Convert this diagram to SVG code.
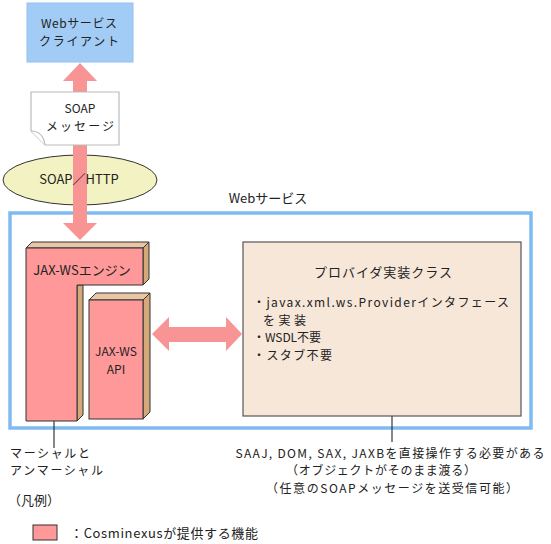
<svg xmlns="http://www.w3.org/2000/svg" width="551" height="544" viewBox="0 0 551 544">
<style>
text{font-family:"Noto Sans CJK JP","Noto Sans",sans-serif;font-size:13px;fill:#222}
.m{font-size:12px}
.c{text-anchor:middle}
.pink{fill:#FF9999;stroke:#333;stroke-width:1}
.top{fill:#E8C6A6;stroke:#333;stroke-width:1}
.side{fill:#D4A878;stroke:#333;stroke-width:1}
.arrow{fill:#F89494;stroke:none}
.lead{stroke:#111;stroke-width:1;fill:none}
</style>
<rect width="551" height="544" fill="#fff"/>
<g id="ellipse-http">
<ellipse cx="80" cy="180" rx="77" ry="25" fill="#F2F2C2" stroke="#333" stroke-width="1"/>
</g>
<g id="container">
<rect x="10" y="213" width="521" height="215" fill="none" stroke="#80BAF2" stroke-width="3.5"/>
<text x="268" y="203" class="c">Webサービス</text>
</g>
<g id="client">
<rect x="27" y="3" width="106" height="59" fill="#A2CCF6" stroke="#8FC2F2" stroke-width="1"/>
<text x="79" y="27.5" class="c m" textLength="76">Webサービス</text>
<text x="79" y="45.5" class="c m" textLength="80">クライアント</text>
</g>
<g id="connectors">
<polygon class="arrow" points="80,63 97,81 87,81 87,223 97,223 80,240 63,223 73,223 73,81 63,81"/>
<polygon class="arrow" points="152,334 169,317 169,327 226,327 226,317 242,334 226,351 226,342 169,342 169,351"/>
<line class="lead" x1="54" y1="388" x2="54" y2="448"/>
<circle cx="54" cy="388" r="2.5" fill="#111"/>
<line class="lead" x1="392" y1="388" x2="392" y2="442"/>
<circle cx="392" cy="388" r="2.5" fill="#111"/>
</g>
<g id="soap-message">
<polygon points="31,92 119,92 119,145 45,145 31,131" fill="#fff" stroke="#BBB" stroke-width="1.2"/>
<path d="M31,131 Q43,131 45,145" fill="#fff" stroke="#BBB" stroke-width="1.2"/>
<text x="80" y="112.5" class="c m">SOAP</text>
<text x="80" y="130.5" class="c m" textLength="68">メッセージ</text>
</g>
<text x="79" y="184" class="c">SOAP／HTTP</text>
<g id="jaxws-engine">
<polygon class="top" points="26,248 32,242 149,242 143,248"/>
<polygon class="side" points="143,248 149,242 149,279 143,285"/>
<polygon class="side" points="77,285 83,285 83,415 77,421"/>
<polygon class="pink" points="26,248 143,248 143,285 77,285 77,421 26,421"/>
<text x="82" y="275" class="c">JAX-WSエンジン</text>
</g>
<g id="jaxws-api">
<polygon class="top" points="89,300 96,293 150,293 143,300"/>
<polygon class="side" points="143,300 150,293 150,412 143,419"/>
<rect class="pink" x="89" y="300" width="54" height="119"/>
<text x="116" y="356" class="c m">JAX-WS</text>
<text x="116" y="374" class="c m">API</text>
</g>
<g id="provider">
<rect x="243" y="242" width="278" height="174" fill="#F7E7D9" stroke="#555" stroke-width="1.2"/>
<text x="383" y="277" class="c" textLength="138">プロバイダ実装クラス</text>
<text x="253" y="307" class="m" textLength="256">・javax.xml.ws.Providerインタフェース</text>
<text x="263" y="324.5" class="m" textLength="43">を実装</text>
<text x="253" y="342" class="m" textLength="68">・WSDL不要</text>
<text x="253" y="359.5" class="m" textLength="79">・スタブ不要</text>
</g>
<g id="notes">
<text x="10" y="457.5" class="m" textLength="80">マーシャルと</text>
<text x="10" y="475" class="m" textLength="93">アンマーシャル</text>
<text x="390" y="457.5" class="c m" textLength="309">SAAJ, DOM, SAX, JAXBを直接操作する必要がある</text>
<text x="381" y="475" class="c m" textLength="190">（オブジェクトがそのまま渡る）</text>
<text x="392" y="492.5" class="c m" textLength="252">（任意のSOAPメッセージを送受信可能）</text>
</g>
<g id="legend">
<text x="8" y="505">（凡例）</text>
<rect class="pink" x="33" y="525" width="24" height="15"/>
<text x="70" y="538" textLength="188">：Cosminexusが提供する機能</text>
</g>
</svg>
